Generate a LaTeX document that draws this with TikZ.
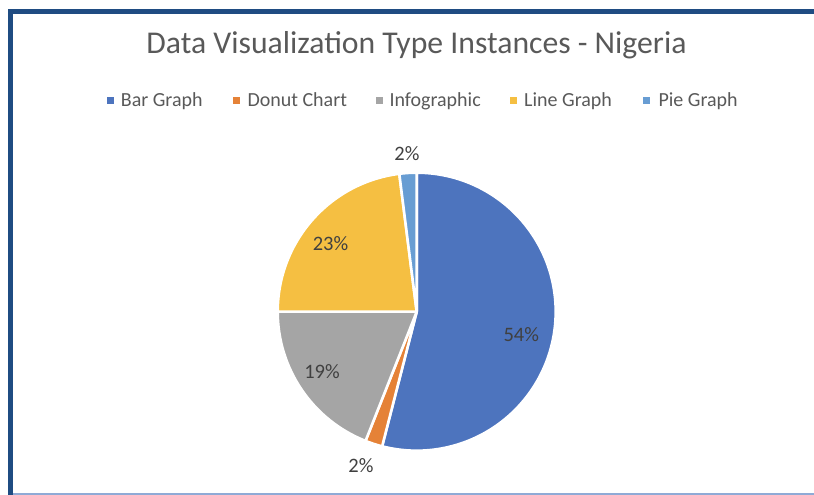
\documentclass[tikz,border=0pt]{standalone}
\usepackage{xcolor}
\usepackage{tikz}
\usepackage{fontspec}
\setmainfont{Carlito}

\definecolor{barblue}{RGB}{77,116,190}
\definecolor{donutorange}{RGB}{229,130,55}
\definecolor{infogray}{RGB}{165,165,165}
\definecolor{lineyellow}{RGB}{245,191,66}
\definecolor{pieblue}{RGB}{104,157,211}
\definecolor{framenavy}{RGB}{31,76,130}
\definecolor{framelight}{RGB}{143,170,214}
\definecolor{titlegray}{RGB}{89,89,89}
\definecolor{labelgray}{RGB}{64,64,64}

\begin{document}
\begin{tikzpicture}[x=1pt, y=1pt,
                    slice/.style={draw=white, line width=2.6pt, line join=round},
                    legkey/.style={minimum size=7pt, inner sep=0pt},
                    legtext/.style={anchor=base west, inner sep=0pt, text=titlegray, font=\fontsize{20}{24}\selectfont},
                    pct/.style={anchor=base, inner sep=0pt, text=labelgray, font=\fontsize{20.5}{24}\selectfont}]
                    \useasboundingbox (0,0) rectangle (814,495);

                    % Frame round the chart area
                    \draw[framenavy, line width=5pt] (814,483.5) -- (10.5,483.5) -- (10.5,0);
                    \draw[framelight, line width=1.5pt] (13,0.8) -- (814,0.8);

                    % Title
                    \node (Title) [anchor=base, inner sep=0pt, text=titlegray, font=\fontsize{31.7}{38}\selectfont] at (416.5,441.7) {Data Visualization Type Instances - Nigeria};

                    % Legend keys and entries
                    \node (kBar)   [legkey, fill=barblue]     at (110.7,394.5) {};
                    \node (tBar)   [legtext] at (120.7,388.7) {Bar Graph};
                    \node (kDonut) [legkey, fill=donutorange] at (236,394.5) {};
                    \node (tDonut) [legtext] at (247.3,388.7) {Donut Chart};
                    \node (kInfo)  [legkey, fill=infogray]    at (379.3,394.5) {};
                    \node (tInfo)  [legtext] at (389.3,388.7) {Infographic};
                    \node (kLine)  [legkey, fill=lineyellow]  at (513.5,394.5) {};
                    \node (tLine)  [legtext] at (524,388.7) {Line Graph};
                    \node (kPie)   [legkey, fill=pieblue]     at (646.8,394.5) {};
                    \node (tPie)   [legtext] at (658.3,388.7) {Pie Graph};

                    % Pie slices, clockwise from twelve o'clock
                    \coordinate (C) at (416.7,183.3);
                    \filldraw[slice, fill=barblue]     (C) -- ++(90:139)     arc[start angle=90,     end angle=-104.4, radius=139] -- cycle;
                    \filldraw[slice, fill=donutorange] (C) -- ++(-104.4:139) arc[start angle=-104.4, end angle=-111.6, radius=139] -- cycle;
                    \filldraw[slice, fill=infogray]    (C) -- ++(-111.6:139) arc[start angle=-111.6, end angle=-180,   radius=139] -- cycle;
                    \filldraw[slice, fill=lineyellow]  (C) -- ++(-180:139)   arc[start angle=-180,   end angle=-262.8, radius=139] -- cycle;
                    \filldraw[slice, fill=pieblue]     (C) -- ++(-262.8:139) arc[start angle=-262.8, end angle=-270,   radius=139] -- cycle;

                    % Data labels
                    \node (pBar)   [pct] at (521.3,153.3) {54\%};
                    \node (pDonut) [pct] at (361,22)      {2\%};
                    \node (pInfo)  [pct] at (322,116)     {19\%};
                    \node (pLine)  [pct] at (330.5,244.3) {23\%};
                    \node (pPie)   [pct] at (407,334.3)   {2\%};
                \end{tikzpicture}
\end{document}
